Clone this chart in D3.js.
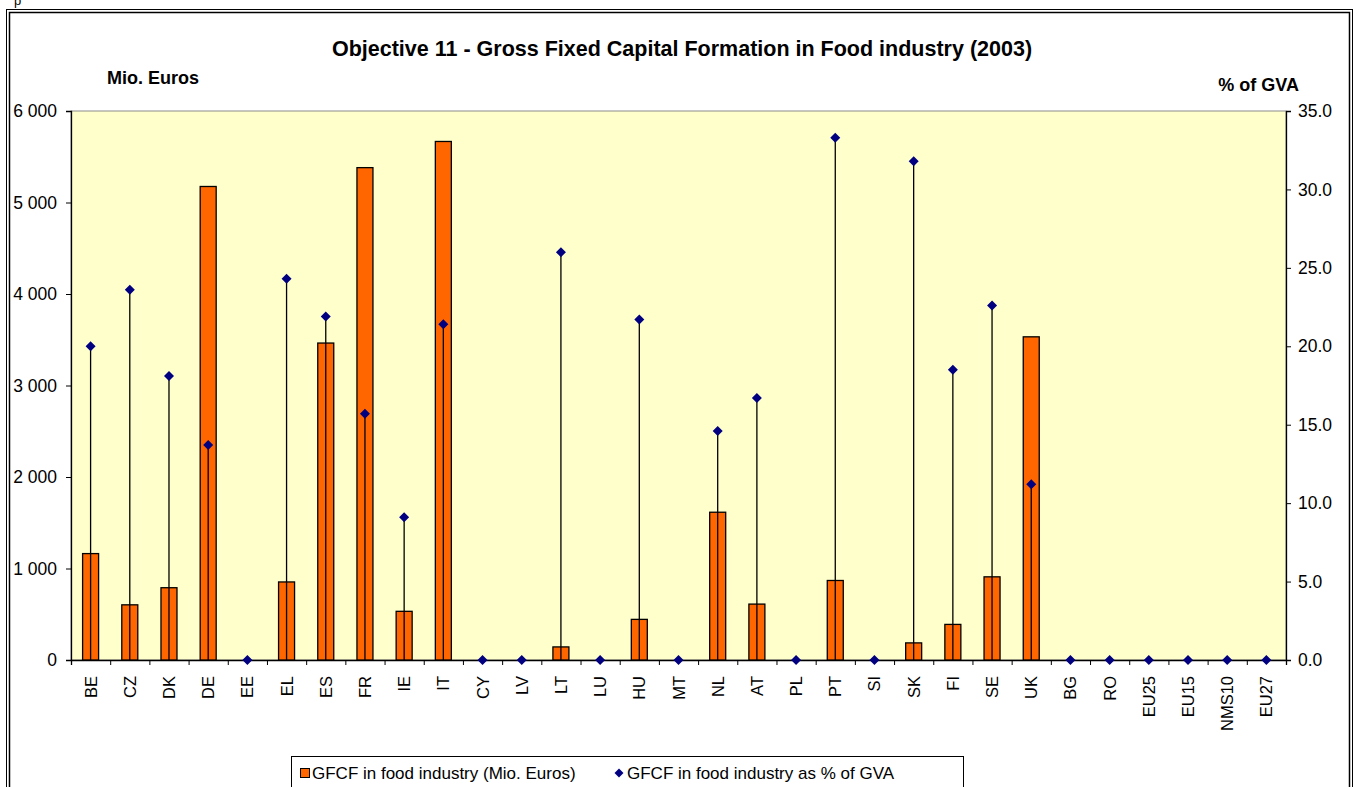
<!DOCTYPE html>
<html>
<head>
<meta charset="utf-8">
<script src="https://cdn.jsdelivr.net/npm/d3@7"></script>
<style>
  body { margin: 0; background: #fff; }
  svg text { font-family: "Liberation Sans", Arial, sans-serif; fill: #000; }
</style>
</head>
<body>
<div id="chart"></div>
<script>
var countries = ["BE", "CZ", "DK", "DE", "EE", "EL", "ES", "FR", "IE", "IT", "CY", "LV", "LT", "LU", "HU", "MT",
  "NL", "AT", "PL", "PT", "SI", "SK", "FI", "SE", "UK", "BG", "RO", "EU25", "EU15", "NMS10", "EU27"];

// GFCF in food industry (Mio. Euros), null = no bar
var gfcf = [1163, 603, 790, 5175, null, 853, 3464, 5381, 532, 5667, null, null, 143, null, 444, null,
  1615, 611, null, 869, null, 187, 389, 909, 3532, null, null, null, null, null, null];

// GFCF in food industry as % of GVA
var gfcfPct = [20.0, 23.6, 18.1, 13.7, 0, 24.3, 21.9, 15.7, 9.1, 21.4, 0, 0, 26.0, 0, 21.7, 0,
  14.6, 16.7, 0, 33.3, 0, 31.8, 18.5, 22.6, 11.2, 0, 0, 0, 0, 0, 0];

var leftTicks = [0, 1000, 2000, 3000, 4000, 5000, 6000];
var rightTicks = [0, 5, 10, 15, 20, 25, 30, 35];

var svgWidth = 1359;
var svgHeight = 787;

var margin = { top: 111, right: 73, bottom: 127, left: 71 };
var width = svgWidth - margin.left - margin.right;
var height = svgHeight - margin.top - margin.bottom;

var svg = d3.select("#chart")
  .append("svg")
  .attr("width", svgWidth)
  .attr("height", svgHeight);

// outer double frame
svg.append("rect").attr("x", 6.5).attr("y", 9.5).attr("width", 1346).attr("height", 800)
  .attr("fill", "none").attr("stroke", "#000").attr("stroke-width", 1);
svg.append("rect").attr("x", 9.5).attr("y", 12.5).attr("width", 1340).attr("height", 800)
  .attr("fill", "none").attr("stroke", "#000").attr("stroke-width", 1.5);

// stray glyph above the frame
svg.append("text").attr("x", 14).attr("y", 5).style("font-size", "13px").text("p");

var chartGroup = svg.append("g")
  .attr("transform", `translate(${margin.left}, ${margin.top})`);

var xScale = d3.scaleBand()
  .domain(countries)
  .range([0, width])
  .padding(0);

var xEdge = d3.scaleLinear()
  .domain([0, countries.length])
  .range([0, width]);

var yLeft = d3.scaleLinear().domain([0, 6000]).range([height, 0]);
var yRight = d3.scaleLinear().domain([0, 35]).range([height, 0]);

// plot area
chartGroup.append("rect")
  .attr("width", width)
  .attr("height", height)
  .attr("fill", "#FFFFCC")
  .attr("stroke", "#8c8c8c")
  .attr("stroke-width", 1);

var locale = d3.formatLocale({ decimal: ".", thousands: " ", grouping: [3], currency: ["", ""] });
var fmtLeft = locale.format(",");

// left axis
var leftAxis = chartGroup.append("g")
  .call(d3.axisLeft(yLeft).tickValues(leftTicks).tickFormat(fmtLeft).tickSize(5).tickPadding(9));
// right axis
var rightAxis = chartGroup.append("g")
  .attr("transform", `translate(${width}, 0)`)
  .call(d3.axisRight(yRight).tickValues(rightTicks).tickFormat(d3.format(".1f")).tickSize(5).tickPadding(7));
// bottom axis ticks between categories
var bottomAxis = chartGroup.append("g")
  .attr("transform", `translate(0, ${height})`)
  .call(d3.axisBottom(xEdge).tickValues(d3.range(countries.length + 1)).tickFormat("").tickSize(5));

[leftAxis, rightAxis, bottomAxis].forEach(function(ax) {
  ax.select(".domain").attr("stroke", "#000").attr("stroke-width", 1.3);
  ax.selectAll(".tick line").attr("stroke", "#000");
  ax.selectAll(".tick text").style("font-size", "17.5px").style("font-family", "Liberation Sans, Arial, sans-serif");
});

// category labels
chartGroup.selectAll(".xlabel")
  .data(countries)
  .enter()
  .append("text")
  .attr("class", "xlabel")
  .attr("transform", d => `translate(${xScale(d) + xScale.bandwidth() / 2 + 6}, ${height + 16}) rotate(-90)`)
  .attr("text-anchor", "end")
  .style("font-size", "16.5px")
  .text(d => d);

// bars
var barW = 16;
chartGroup.selectAll(".bar")
  .data(countries.map((c, i) => ({ c: c, v: gfcf[i] })).filter(d => d.v !== null))
  .enter()
  .append("rect")
  .attr("class", "bar")
  .attr("x", d => xScale(d.c) + xScale.bandwidth() / 2 - barW / 2)
  .attr("y", d => yLeft(d.v))
  .attr("width", barW)
  .attr("height", d => height - yLeft(d.v))
  .attr("fill", "#FF6600")
  .attr("stroke", "#000")
  .attr("stroke-width", 1.3);

var pts = countries.map((c, i) => ({ c: c, v: gfcfPct[i] }));

// drop lines
chartGroup.selectAll(".drop")
  .data(pts.filter(d => d.v > 0))
  .enter()
  .append("line")
  .attr("x1", d => xScale(d.c) + xScale.bandwidth() / 2)
  .attr("x2", d => xScale(d.c) + xScale.bandwidth() / 2)
  .attr("y1", d => yRight(d.v))
  .attr("y2", height)
  .attr("stroke", "#000")
  .attr("stroke-width", 1.3);

// diamonds
chartGroup.selectAll(".pt")
  .data(pts)
  .enter()
  .append("path")
  .attr("d", d3.symbol(d3.symbolSquare, 50))
  .attr("transform", d => `translate(${xScale(d.c) + xScale.bandwidth() / 2}, ${yRight(d.v)}) rotate(45)`)
  .attr("fill", "#000080");

// titles
svg.append("text")
  .attr("x", 682).attr("y", 56)
  .attr("text-anchor", "middle")
  .style("font-size", "21.5px").style("font-weight", "bold")
  .text("Objective 11 - Gross Fixed Capital Formation in Food industry (2003)");

svg.append("text")
  .attr("x", 107).attr("y", 84)
  .style("font-size", "18px").style("font-weight", "bold")
  .text("Mio. Euros");

svg.append("text")
  .attr("x", 1299).attr("y", 91)
  .attr("text-anchor", "end")
  .style("font-size", "18px").style("font-weight", "bold")
  .text("% of GVA");

// legend
var legend = svg.append("g");
legend.append("rect")
  .attr("x", 291.5).attr("y", 756.5).attr("width", 672).attr("height", 60)
  .attr("fill", "#fff").attr("stroke", "#000").attr("stroke-width", 1);
legend.append("rect")
  .attr("x", 300.5).attr("y", 768.5).attr("width", 9).attr("height", 9)
  .attr("fill", "#FF6600").attr("stroke", "#000").attr("stroke-width", 1);
legend.append("text")
  .attr("x", 312).attr("y", 779)
  .style("font-size", "17px")
  .text("GFCF in food industry (Mio. Euros)");
legend.append("path")
  .attr("d", d3.symbol(d3.symbolSquare, 40))
  .attr("transform", "translate(619, 773) rotate(45)")
  .attr("fill", "#000080");
legend.append("text")
  .attr("x", 627).attr("y", 779)
  .style("font-size", "17px")
  .text("GFCF in food industry as % of GVA");
</script>
</body>
</html>
